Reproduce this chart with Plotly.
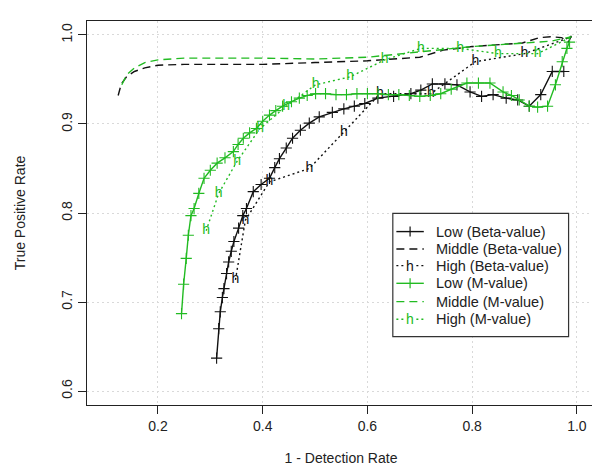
import plotly.graph_objects as go

# ---------------- data ----------------
low_beta_x = [0.312, 0.316, 0.319, 0.323, 0.326, 0.331, 0.335, 0.340, 0.345, 0.354, 0.362, 0.369,
              0.382, 0.397, 0.413, 0.423, 0.432, 0.445, 0.457, 0.472, 0.489, 0.508, 0.533, 0.555,
              0.575, 0.595, 0.620, 0.650, 0.683, 0.702, 0.724, 0.748, 0.771, 0.796, 0.818, 0.840,
              0.865, 0.887, 0.909, 0.931, 0.953, 0.975]
low_beta_y = [0.637, 0.670, 0.689, 0.705, 0.715, 0.732, 0.745, 0.757, 0.768, 0.783, 0.797, 0.805,
              0.824, 0.832, 0.839, 0.851, 0.861, 0.873, 0.884, 0.893, 0.901, 0.908, 0.913, 0.917,
              0.920, 0.923, 0.929, 0.931, 0.934, 0.938, 0.945, 0.945, 0.944, 0.936, 0.931, 0.933,
              0.929, 0.927, 0.920, 0.933, 0.959, 0.959]

mid_beta_x = [0.124, 0.130, 0.140, 0.155, 0.175, 0.200, 0.250, 0.300, 0.400, 0.500, 0.600, 0.700,
              0.745, 0.800, 0.850, 0.896, 0.928, 0.950, 0.971, 0.984, 0.990]
mid_beta_y = [0.932, 0.945, 0.953, 0.959, 0.963, 0.966, 0.967, 0.967, 0.967, 0.969, 0.971, 0.975,
              0.983, 0.987, 0.989, 0.991, 0.997, 0.998, 0.997, 0.992, 1.000]

high_beta_x = [0.348, 0.367, 0.413, 0.489, 0.555, 0.624, 0.721, 0.806, 0.900, 0.990]
high_beta_y = [0.725, 0.792, 0.835, 0.850, 0.891, 0.934, 0.934, 0.970, 0.979, 0.998]

low_m_x = [0.245, 0.249, 0.254, 0.258, 0.263, 0.269, 0.278, 0.288, 0.300, 0.313, 0.328, 0.344,
           0.353, 0.363, 0.375, 0.388, 0.400, 0.413, 0.425, 0.438, 0.455, 0.470, 0.485, 0.501,
           0.520, 0.540, 0.560, 0.580, 0.600, 0.620, 0.640, 0.660, 0.680, 0.700, 0.720, 0.740,
           0.760, 0.790, 0.812, 0.834, 0.859, 0.875, 0.890, 0.909, 0.925, 0.944, 0.959, 0.972,
           0.981, 0.986]
low_m_y = [0.687, 0.720, 0.749, 0.775, 0.797, 0.805, 0.822, 0.839, 0.848, 0.856, 0.862, 0.869,
           0.877, 0.884, 0.890, 0.895, 0.903, 0.910, 0.915, 0.920, 0.925, 0.929, 0.932, 0.934,
           0.934, 0.933, 0.933, 0.934, 0.934, 0.934, 0.933, 0.933, 0.932, 0.931, 0.932, 0.934,
           0.939, 0.946, 0.946, 0.946, 0.936, 0.932, 0.927, 0.920, 0.919, 0.920, 0.944, 0.970,
           0.985, 0.992]

mid_m_x = [0.131, 0.140, 0.155, 0.175, 0.200, 0.250, 0.300, 0.400, 0.500, 0.600, 0.700, 0.800,
           0.900, 0.950, 0.990]
mid_m_y = [0.944, 0.955, 0.963, 0.969, 0.972, 0.974, 0.974, 0.974, 0.973, 0.975, 0.981, 0.987,
           0.991, 0.993, 0.998]

high_m_x = [0.292, 0.316, 0.351, 0.395, 0.445, 0.501, 0.567, 0.633, 0.702, 0.777, 0.849, 0.925, 0.990]
high_m_y = [0.780, 0.822, 0.858, 0.895, 0.920, 0.944, 0.953, 0.972, 0.985, 0.985, 0.979, 0.979, 0.998]

legend_labels = ["Low (Beta-value)", "Middle (Beta-value)", "High (Beta-value)",
                 "Low (M-value)", "Middle (M-value)", "High (M-value)"]
x_ticks = [0.2, 0.4, 0.6, 0.8, 1.0]
y_ticks = [0.6, 0.7, 0.8, 0.9, 1.0]

BLACK = "#111111"
GREEN = "#22bb22"
TXT = "#222222"
FONT = "Liberation Sans, Arial, sans-serif"
DASH = "8px,5px"
DOT = "2px,3px"

fig = go.Figure()

def h_text(n):
    return ["h"] * (n - 1) + [""]

# Beta-value curves
fig.add_trace(go.Scatter(x=low_beta_x, y=low_beta_y, mode="lines+markers",
                         line=dict(color=BLACK, width=1.4),
                         marker=dict(symbol="cross-thin-open", size=8,
                                     line=dict(color=BLACK, width=1.1))))
fig.add_trace(go.Scatter(x=mid_beta_x, y=mid_beta_y, mode="lines",
                         line=dict(color=BLACK, width=1.4, dash=DASH)))
fig.add_trace(go.Scatter(x=high_beta_x, y=high_beta_y, mode="lines+text",
                         text=h_text(len(high_beta_x)), textposition="middle center",
                         textfont=dict(family=FONT, size=14, color=BLACK),
                         line=dict(color=BLACK, width=1.4, dash=DOT)))
# M-value curves
fig.add_trace(go.Scatter(x=low_m_x, y=low_m_y, mode="lines+markers",
                         line=dict(color=GREEN, width=1.4),
                         marker=dict(symbol="cross-thin-open", size=8,
                                     line=dict(color=GREEN, width=1.1))))
fig.add_trace(go.Scatter(x=mid_m_x, y=mid_m_y, mode="lines",
                         line=dict(color=GREEN, width=1.4, dash=DASH)))
fig.add_trace(go.Scatter(x=high_m_x, y=high_m_y, mode="lines+text",
                         text=h_text(len(high_m_x)), textposition="middle center",
                         textfont=dict(family=FONT, size=14, color=GREEN),
                         line=dict(color=GREEN, width=1.4, dash=DOT)))

# ---------------- manual legend (paper coords) ----------------
shapes = [dict(type="rect", xref="paper", yref="paper", x0=0.602, x1=0.948, y0=0.178, y1=0.499,
               line=dict(color="#333333", width=1.2), fillcolor="white", layer="above")]
annotations = []
row_y = [0.4516, 0.4063, 0.3630, 0.3169, 0.2693, 0.2232]
styles = [(BLACK, None, "plus"), (BLACK, DASH, None), (BLACK, DOT, "h"),
          (GREEN, None, "plus"), (GREEN, DASH, None), (GREEN, DOT, "h")]
lx0, lx1, lxc, tx = 0.609, 0.663, 0.636, 0.684
for (col, dash, glyph), yy, lab in zip(styles, row_y, legend_labels):
    ln = dict(color=col, width=1.4)
    if dash:
        ln["dash"] = dash
    shapes.append(dict(type="line", xref="paper", yref="paper", x0=lx0, x1=lx1, y0=yy, y1=yy,
                       line=ln, layer="above"))
    if glyph == "plus":
        shapes.append(dict(type="line", xref="paper", yref="paper", x0=lxc, x1=lxc,
                           y0=yy - 0.013, y1=yy + 0.013, line=dict(color=col, width=1.2),
                           layer="above"))
    elif glyph == "h":
        annotations.append(dict(xref="paper", yref="paper", x=lxc, y=yy, text="h",
                                showarrow=False, xanchor="center", yanchor="middle",
                                bgcolor="white", borderpad=0,
                                font=dict(family=FONT, size=14, color=col)))
    annotations.append(dict(xref="paper", yref="paper", x=tx, y=yy, text=lab,
                            showarrow=False, xanchor="left", yanchor="middle",
                            font=dict(family=FONT, size=14.5, color=TXT)))

axis_common = dict(showline=True, linecolor=TXT, linewidth=1, mirror=True,
                   ticks="outside", ticklen=8, tickcolor=TXT, tickwidth=1,
                   showgrid=True, gridcolor="#d9d9d9", gridwidth=1, griddash="2px,3px",
                   zeroline=False, tickfont=dict(family=FONT, size=14, color=TXT))

fig.update_layout(
    width=600, height=472,
    margin=dict(l=71, r=13, t=13, b=75),
    paper_bgcolor="white", plot_bgcolor="white",
    showlegend=False,
    font=dict(family=FONT, size=14, color=TXT),
    xaxis=dict(range=[0.0645, 1.0346], tickvals=x_ticks, ticktext=[f"{v:.1f}" for v in x_ticks],
               title=dict(text="1 - Detection Rate", font=dict(family=FONT, size=14, color=TXT),
                          standoff=20),
               **axis_common),
    yaxis=dict(range=[0.5843, 1.0157], tickvals=y_ticks, ticktext=[f"{v:.1f}" for v in y_ticks],
               tickangle=-90,
               title=dict(text="True Positive Rate", font=dict(family=FONT, size=14, color=TXT),
                          standoff=30),
               **axis_common),
    shapes=shapes,
    annotations=annotations,
)

fig.write_html("out.html")
